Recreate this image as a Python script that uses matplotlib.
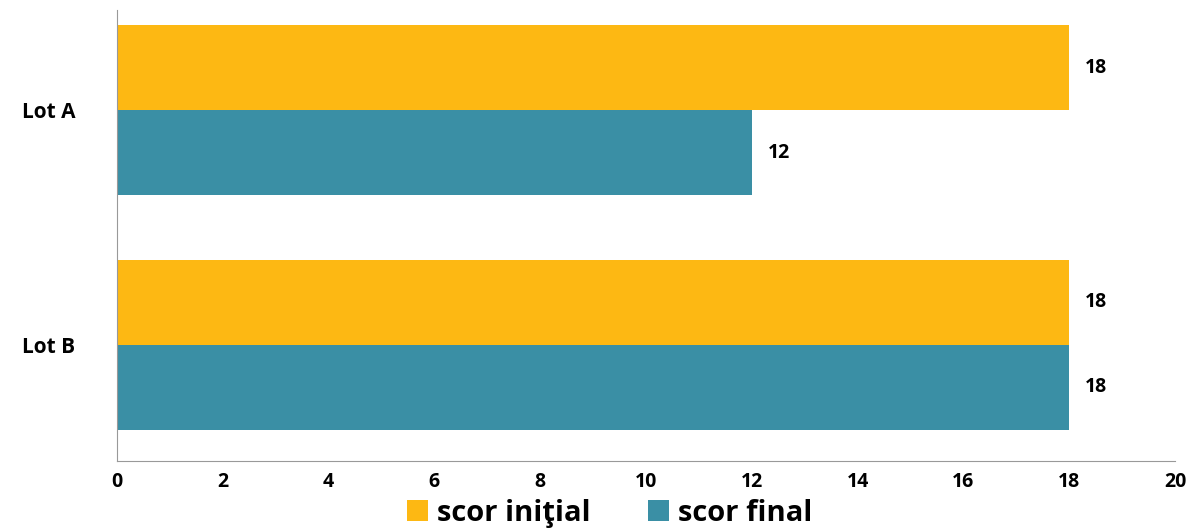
import matplotlib.pyplot as plt
import numpy as np

plt.rcParams['font.family'] = ['Open Sans', 'DejaVu Sans']

categories = ["Lot A", "Lot B"]
scor_initial = [18, 18]
scor_final = [12, 18]
series_names = ["scor iniţial", "scor final"]
colors = ["#FDB813", "#3A8FA5"]

fig = plt.figure(figsize=(12, 5.28), dpi=100)
ax = fig.add_axes([0.0975, 0.127, 0.8817, 0.854])

pos = np.array([1, 0])  # Lot A on top
h = 0.362
b1 = ax.barh(pos + h / 2, scor_initial, height=h, color=colors[0], label=series_names[0])
b2 = ax.barh(pos - h / 2, scor_final, height=h, color=colors[1], label=series_names[1])

for bars in (b1, b2):
    for r in bars:
        ax.text(r.get_width() + 0.3, r.get_y() + r.get_height() / 2, f"{r.get_width():.0f}",
                va="center", ha="left", fontsize=14, fontweight="bold")

ax.set_xlim(0, 20)
ax.set_ylim(-0.494, 1.426)
ax.set_xticks(range(0, 21, 2))
ax.set_yticks(pos)
ax.set_yticklabels(categories, fontsize=15, fontweight="bold")
ax.tick_params(axis="x", length=0, labelsize=14, pad=8)
ax.tick_params(axis="y", length=0, pad=30)
for lbl in ax.get_xticklabels():
    lbl.set_fontweight("bold")

for s in ("top", "right"):
    ax.spines[s].set_visible(False)
ax.spines["left"].set_color("#999999")
ax.spines["bottom"].set_color("#999999")

fig.legend(*ax.get_legend_handles_labels(), loc="center", bbox_to_anchor=(0.508, 0.028),
           ncol=2, frameon=False, prop={"size": 21, "weight": "bold"},
           handlelength=0.7, handleheight=0.7, handletextpad=0.3, columnspacing=2.0,
           borderpad=0)

fig.savefig("out.png", dpi=100)
